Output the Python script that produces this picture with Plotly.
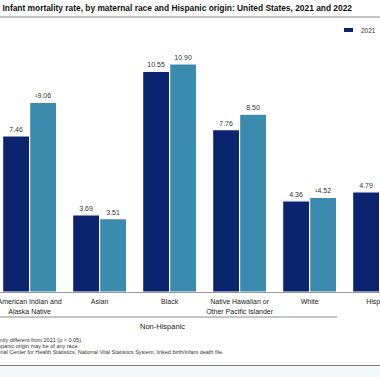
import plotly.graph_objects as go

# ---- data ----
categories = ["American Indian and<br>Alaska Native", "Asian", "Black",
              "Native Hawaiian or<br>Other Pacific Islander", "White", "Hispanic"]
rate_2021 = [7.46, 3.69, 10.55, 7.76, 4.36, 4.79]
rate_2022 = [9.06, 3.51, 10.90, 8.50, 4.52, None]
sig_2022 = [True, False, False, False, True, False]
y_ticks = [0, 2, 4, 6, 8, 10, 12]

title_text = "Infant mortality rate, by maternal race and Hispanic origin: United States, 2021 and 2022"
footnotes = [
    "¹Significantly different from 2021 (p < 0.05).",
    "NOTE: People of Hispanic origin may be of any race.",
    "SOURCE: National Center for Health Statistics, National Vital Statistics System, linked birth/infant death file.",
]

# ---- layout constants ----
W, H = 380, 377
MT, MB = 41, 85
PH = H - MT - MB
DARK = "#0b2470"
LIGHT = "#3a8bad"
FONT = "Liberation Sans, Arimo, Arial, sans-serif"
TFONT = "Liberation Sans, Arial, sans-serif"


def px(x):
    return x / W


def py(y):
    return (H - MB - y) / PH


xs = list(range(len(categories)))
lab21 = [f"{v:.2f}" for v in rate_2021]
lab22 = [("" if v is None else (("¹" if s else "") + f"{v:.2f}")) for v, s in zip(rate_2022, sig_2022)]

fig = go.Figure()
fig.add_trace(go.Bar(x=xs, y=rate_2021, name="2021", marker=dict(color=DARK, line=dict(color="white", width=1.2)),
                     text=lab21, textposition="outside", cliponaxis=False, constraintext="none",
                     textfont=dict(size=7, color="#333333", family=FONT)))
fig.add_trace(go.Bar(x=xs, y=rate_2022, name="2022", marker=dict(color=LIGHT, line=dict(color="white", width=1.2)),
                     text=lab22, textposition="outside", cliponaxis=False, constraintext="none",
                     textfont=dict(size=7, color="#333333", family=FONT), showlegend=False))

r0 = -29.6 / 70
r1 = r0 + W / 70

shapes = [
    dict(type="line", xref="paper", yref="paper", x0=0, x1=1, y0=py(17), y1=py(17), line=dict(color="#8a8a8a", width=1)),
    dict(type="line", xref="paper", yref="paper", x0=px(-13), x1=px(337), y0=py(317), y1=py(317), line=dict(color="#8a8a8a", width=1)),
    dict(type="line", xref="paper", yref="paper", x0=0, x1=1, y0=py(365.5), y1=py(365.5), line=dict(color="#7a7a7a", width=1)),
    dict(type="rect", xref="paper", yref="paper", x0=0, x1=1, y0=py(377), y1=py(366.5), fillcolor="#f3f8f9", line=dict(width=0)),
    dict(type="rect", xref="paper", yref="paper", x0=px(344), x1=px(353), y0=py(32), y1=py(28), fillcolor=DARK, line=dict(width=0)),
]

annotations = [
    dict(text="2021", xref="paper", yref="paper", x=px(359), y=py(30), xanchor="left", yanchor="middle",
         showarrow=False, font=dict(size=6.5, color="#333333", family=FONT)),
    dict(text="Non-Hispanic", xref="paper", yref="paper", x=px(162), y=py(327), xanchor="center", yanchor="middle",
         showarrow=False, font=dict(size=7.5, color="#222222", family=FONT)),
]
foot_end = [85, 81, 226]
foot_y = [340, 346, 352]
for t, xe, yy in zip(footnotes, foot_end, foot_y):
    annotations.append(dict(text=t, xref="paper", yref="paper", x=px(xe), y=py(yy), xanchor="right", yanchor="middle",
                            showarrow=False, font=dict(size=5.5, color="#333333", family=FONT)))

fig.update_layout(
    width=W, height=H,
    margin=dict(l=0, r=0, t=MT, b=MB, pad=0),
    paper_bgcolor="white", plot_bgcolor="white",
    barmode="group", bargap=1 - 54 / 70, bargroupgap=0,
    showlegend=False,
    title=dict(text=title_text, x=352 / W, xanchor="right", y=1 - 8 / H, yanchor="middle",
               pad=dict(l=0, r=0, t=0, b=0),
               font=dict(size=8.4, color="#111111", family=TFONT, weight="bold")),
    xaxis=dict(range=[r0, r1], tickvals=xs, ticktext=categories, showgrid=False, zeroline=False,
               showline=True, linecolor="#999999", linewidth=1, ticks="", automargin=False,
               ticklabeloverflow="allow", ticklabelstandoff=3,
               tickfont=dict(size=7, color="#222222", family=FONT)),
    yaxis=dict(range=[0, 12], tickvals=y_ticks, showticklabels=False, showgrid=False, zeroline=False,
               showline=False, automargin=False),
    shapes=shapes,
    annotations=annotations,
    font=dict(family=FONT),
)

fig.write_html("out.html", config={"displayModeBar": False},
               post_script="document.body.style.margin='0';document.body.style.overflow='hidden';")
